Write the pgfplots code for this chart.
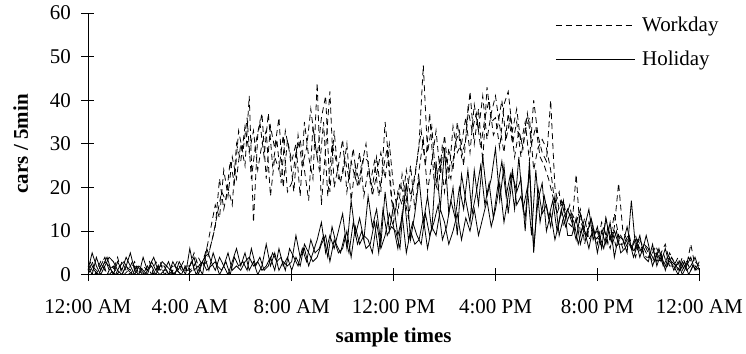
\documentclass[border=0pt]{standalone}
\usepackage{fontspec}
\setmainfont{Liberation Serif}
\usepackage{pgfplots}
\usepackage{pgfplotstable}
\pgfplotsset{compat=1.18}

\pgfplotstableread{
t w1 w2 h1 h2
0 1 0 2 1
10 3 2 0 5
20 0 1 4 2
30 2 3 1 0
40 4 1 3 2
50 1 0 2 4
60 2 1 0 3
70 0 4 3 1
80 3 0 1 0
90 1 2 4 2
100 0 1 2 5
110 2 3 0 1
120 1 0 2 0
130 0 2 1 4
140 2 1 0 1
150 0 0 3 2
160 1 3 1 0
170 3 1 0 2
180 0 2 1 2
190 1 0 3 0
200 2 1 0 3
210 1 3 1 1
220 0 1 2 0
230 2 1 0 2
240 2 1 6 2
250 5 2 1 4
260 2 4 2 0
270 3 2 0 3
280 6 3 6 1
290 11 7 3 2
300 16 11 1 3
310 13 22 4 0
320 24 15 2 2
330 18 20 0 5
340 27 16 3 1
350 22 30 6 2
360 30 26 2 1
370 25 34 5 3
380 41 28 1 4
390 12 33 3 2
400 32 24 0 3
410 37 30 2 1
420 22 33 7 2
430 34 18 2 4
440 29 27 5 1
450 36 24 1 6
460 20 32 3 2
470 31 19 2 4
480 26 21 3 1
490 30 28 9 4
500 18 31 4 2
510 35 24 6 7
520 27 17 2 5
530 22 34 5 3
540 44 27 8 4
550 16 36 12 7
560 29 41 5 9
570 42 19 9 3
580 20 33 6 8
590 25 22 10 5
600 31 23 14 6
610 19 30 6 10
620 26 17 17 4
630 22 25 9 11
640 28 21 13 7
650 18 27 8 9
660 24 26 18 8
670 20 18 11 5
680 27 23 15 12
690 19 28 7 6
700 35 22 19 9
710 25 30 10 14
720 12 20 16 11
730 19 14 9 6
740 16 23 13 14
750 24 17 21 5
760 18 25 8 10
770 22 15 14 7
780 30 24 22 8
790 48 31 12 13
800 28 19 18 6
810 34 26 10 11
820 21 33 26 9
830 27 23 15 15
840 19 32 29 12
850 29 22 14 7
860 24 34 20 10
870 35 28 9 14
880 27 30 23 8
890 31 36 17 13
900 42 28 12 10
910 30 39 24 15
920 38 33 16 9
930 26 41 27 13
940 43 31 18 17
950 35 37 22 11
960 36 41 29 15
970 29 34 17 21
980 39 28 25 12
990 42 37 14 18
1000 33 30 23 24
1010 38 35 19 16
1020 30 27 22 18
1030 35 33 10 13
1040 26 36 26 24
1050 40 24 5 6
1060 32 29 20 17
1070 28 31 14 21
1080 26 29 16 10
1090 40 24 11 14
1100 20 16 18 8
1110 15 19 9 12
1120 17 11 13 17
1130 12 15 15 9
1140 11 14 12 9
1150 23 12 8 13
1160 9 15 14 7
1170 13 7 10 11
1180 8 12 6 15
1190 10 9 11 8
1200 7 10 5 11
1210 12 6 10 6
1220 9 13 7 13
1230 6 8 12 8
1240 11 14 4 10
1250 21 9 9 7
1260 10 6 8 7
1270 8 9 5 11
1280 6 7 17 6
1290 9 4 6 8
1300 5 8 9 4
1310 7 6 4 7
1320 5 4 3 6
1330 3 6 7 2
1340 6 3 2 5
1350 4 5 5 3
1360 2 7 1 6
1370 5 3 4 2
1380 3 2 1 2
1390 1 4 3 0
1400 4 1 0 3
1410 2 3 2 1
1420 7 1 4 2
1430 2 3 1 4
1440 1 2 3 1
}\traffic

\pgfplotstableread{
t w3 h3
5 2 3
15 0 1
25 1 0
35 3 2
45 0 4
55 2 1
65 1 0
75 2 2
85 0 3
95 1 1
105 3 0
115 0 2
125 0 1
135 1 0
145 3 2
155 0 4
165 2 1
175 1 3
185 1 2
195 0 1
205 2 0
215 1 3
225 3 1
235 0 1
245 1 3
255 3 0
265 2 2
275 4 4
285 5 1
295 9 5
305 14 2
315 19 1
325 17 3
335 26 0
345 21 4
355 33 2
365 28 3
375 36 1
385 22 6
395 30 2
405 35 4
415 27 1
425 37 2
435 25 5
445 31 3
455 21 4
465 33 1
475 28 6
485 19 4
495 32 2
505 25 6
515 29 3
525 38 8
535 30 5
545 24 6
555 35 9
565 18 4
575 30 11
585 26 7
595 21 5
605 27 9
615 22 5
625 29 12
635 20 7
645 25 10
655 30 6
665 21 7
675 26 12
685 18 5
695 24 15
705 29 9
715 17 11
725 15 10
735 21 6
745 18 18
755 13 8
765 20 12
775 26 9
785 33 7
795 25 14
805 37 9
815 22 12
825 19 16
835 30 8
845 26 11
855 22 17
865 30 13
875 33 20
885 25 15
895 38 24
905 33 14
915 37 19
925 29 25
935 36 16
945 40 21
955 32 13
965 34 20
975 40 26
985 31 18
995 36 23
1005 27 15
1015 33 27
1025 29 15
1035 37 20
1045 30 9
1055 34 24
1065 27 12
1075 25 18
1085 22 13
1095 18 17
1105 14 10
1115 17 15
1125 13 11
1135 16 14
1145 10 12
1155 14 7
1165 11 11
1175 8 9
1185 13 13
1195 9 8
1205 8 9
1215 11 6
1225 7 11
1235 10 7
1245 6 10
1255 9 5
1265 7 6
1275 9 8
1285 5 4
1295 8 7
1305 6 5
1315 4 9
1325 4 5
1335 6 3
1345 3 6
1355 5 2
1365 2 4
1375 4 3
1385 2 2
1395 3 1
1405 1 3
1415 4 0
1425 2 2
1435 1 1
}\trafficb

\begin{document}
\begin{tikzpicture}[font=\fontsize{21bp}{25bp}\selectfont]
\begin{axis}[
  scale only axis,
  width=612bp, height=262bp,
  xmin=0, xmax=1440, ymin=0, ymax=60,
  axis lines=left,
  axis line style={-, line width=0.8bp, black},
  xtick={0,240,480,720,960,1200,1440},
  xticklabels={12:00 AM,4:00 AM,8:00 AM,12:00 PM,4:00 PM,8:00 PM,12:00 AM},
  ytick={0,10,20,30,40,50,60},
  tick align=center,
  major tick length=13bp,
  tick style={black, line width=0.8bp},
  /pgf/number format/assume math mode=true,
  xticklabel style={yshift=-15bp},
  yticklabel style={xshift=-7bp},
  xlabel={\bfseries sample times},
  ylabel={\bfseries cars / 5min},
  xlabel style={at={(rel axis cs:0.5,0)}, anchor=base, yshift=-68bp},
  ylabel style={at={(rel axis cs:0,0.5)}, anchor=base, yshift=60bp},
  legend style={draw=none, fill=none, inner sep=0pt, outer sep=0pt,
    at={(rel axis cs:0.7647,0.985)}, anchor=north west,
    nodes={inner sep=0pt}, column sep=7bp, row sep=18bp},
  legend cell align=left,
  legend image code/.code={\draw[#1] (0bp,0bp) -- (79bp,0bp);},
  every axis plot/.append style={line width=0.8bp, black},
]
\addplot[black, dash pattern=on 6bp off 4bp] table[x=t, y=w1]{\traffic};
\addlegendentry{Workday}
\addplot[black, solid] table[x=t, y=h1]{\traffic};
\addlegendentry{Holiday}
\addplot[black, dash pattern=on 6bp off 4bp, forget plot] table[x=t, y=w2]{\traffic};
\addplot[black, dash pattern=on 6bp off 4bp, forget plot] table[x=t, y=w3]{\trafficb};
\addplot[black, solid, forget plot] table[x=t, y=h2]{\traffic};
\addplot[black, solid, forget plot] table[x=t, y=h3]{\trafficb};
\end{axis}
\path ([shift={(-88bp,-79bp)}]current axis.south west) rectangle ([shift={(46bp,13bp)}]current axis.north east);
\end{tikzpicture}
\end{document}
